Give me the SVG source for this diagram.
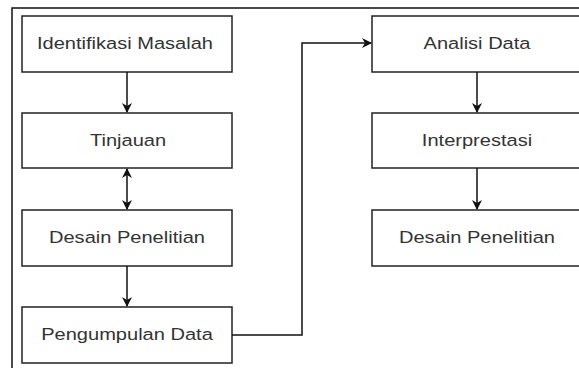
<svg xmlns="http://www.w3.org/2000/svg" width="579" height="368" viewBox="0 0 579 368">
<style>
.box{fill:#fff;stroke:#222;stroke-width:1.5}
.lbl{font-family:"Liberation Sans",Arial,sans-serif;font-size:17px;fill:#333;text-anchor:middle}
.edge{fill:none;stroke:#111;stroke-width:1.5}
</style>
<defs>
<marker id="arr" markerWidth="10" markerHeight="10" refX="9" refY="5" orient="auto-start-reverse" markerUnits="userSpaceOnUse">
<path d="M0,0 L10,5 L0,10 L3,5 Z" fill="#111"/>
</marker>
</defs>
<rect width="579" height="368" fill="#fff"/>
<path d="M12,368 V8 H579" fill="none" stroke="#111" stroke-width="1.5"/>
<g id="n1"><rect class="box" x="22" y="16" width="210" height="56"/><text class="lbl" transform="translate(125,49) scale(1.18,1)">Identifikasi Masalah</text></g>
<g id="n2"><rect class="box" x="22" y="113" width="210" height="55"/><text class="lbl" transform="translate(128,146) scale(1.18,1)">Tinjauan</text></g>
<g id="n3"><rect class="box" x="22" y="210" width="210" height="56"/><text class="lbl" transform="translate(127,243) scale(1.18,1)">Desain Penelitian</text></g>
<g id="n4"><rect class="box" x="22" y="307" width="210" height="56"/><text class="lbl" transform="translate(127,340) scale(1.18,1)">Pengumpulan Data</text></g>
<g id="n5"><rect class="box" x="372" y="16" width="210" height="56"/><text class="lbl" transform="translate(477,49) scale(1.18,1)">Analisi Data</text></g>
<g id="n6"><rect class="box" x="372" y="113" width="210" height="55"/><text class="lbl" transform="translate(477,146) scale(1.18,1)">Interprestasi</text></g>
<g id="n7"><rect class="box" x="372" y="210" width="210" height="56"/><text class="lbl" transform="translate(477,243) scale(1.18,1)">Desain Penelitian</text></g>
<g id="connectors">
<path class="edge" d="M127,72 V112" marker-end="url(#arr)"/>
<path class="edge" d="M127,169 V209" marker-start="url(#arr)" marker-end="url(#arr)"/>
<path class="edge" d="M127,266 V306" marker-end="url(#arr)"/>
<path class="edge" d="M232,335 H302 V43 H371" marker-end="url(#arr)"/>
<path class="edge" d="M477,72 V112" marker-end="url(#arr)"/>
<path class="edge" d="M477,168 V209" marker-end="url(#arr)"/>
</g>
</svg>
